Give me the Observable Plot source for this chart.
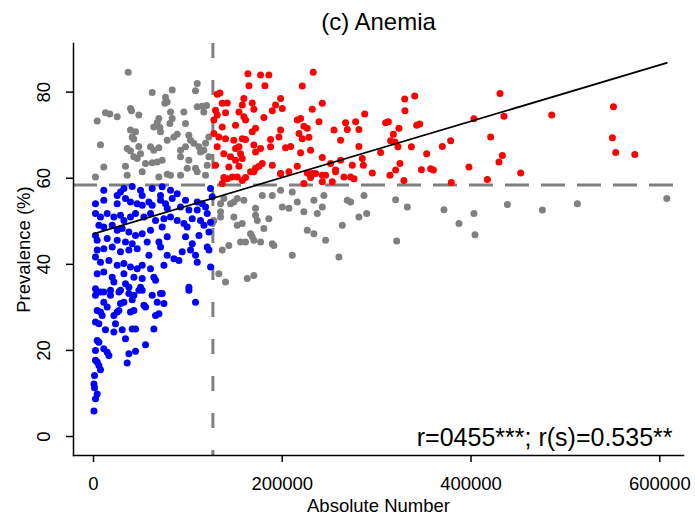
<!DOCTYPE html>
<html><head><meta charset="utf-8">
<script src="https://cdn.jsdelivr.net/npm/d3@7"></script>
<script src="https://cdn.jsdelivr.net/npm/@observablehq/plot@0.6"></script>
<style>body{margin:0;background:#fff;font-family:"Liberation Sans",Arial,sans-serif}</style>
</head><body><div id="chart"></div>
<script>
// Grey points: outside the two highlighted quadrants
const grayPts = [
[36800,84.6],[62200,79.9],[83400,80.5],[109900,82.0],[108100,80.3],[76300,78.8],[78100,77.7],[75600,77.4],[39200,76.2],[40300,75.7],
[12700,75.2],[17300,74.9],[25100,74.3],[3900,73.3],[48000,74.7],[69200,73.9],[67500,72.9],[63900,71.9],[70300,71.8],[71000,70.8],
[81600,75.4],[83400,73.9],[80900,72.7],[95700,75.4],[97500,72.7],[109900,76.6],[115200,76.7],[119800,76.9],[116900,75.4],[39200,71.2],
[44500,70.8],[41000,69.6],[42700,69.1],[7400,67.8],[35700,66.9],[39200,66.3],[48000,67.4],[49800,65.7],[60400,67.3],[63900,66.5],
[69200,67.1],[78100,68.8],[85100,69.6],[88700,70.2],[101000,70.0],[102800,68.8],[92200,66.5],[97500,67.3],[106300,68.1],[111600,67.3],
[113400,66.1],[118700,68.1],[122200,69.6],[116900,66.5],[42700,65.0],[46300,64.6],[55100,63.4],[62200,63.6],[67500,63.8],[72800,64.2],
[92200,65.0],[101000,64.2],[108100,62.3],[120500,63.0],[122200,65.0],[10900,62.6],[33900,62.8],[51600,61.5],[69200,60.3],[81600,60.7],
[99300,62.3],[109900,61.5],[2100,60.3],[35700,60.7],[78100,60.9],[92200,60.7],[118700,60.7],
[134600,54.1],[138100,55.3],[145200,54.1],[148700,54.5],[152300,55.3],[159300,54.9],[134600,52.2],[134600,51.0],[148700,51.0],[152300,49.1],
[157600,49.5],[171700,53.0],[171700,51.4],[173500,50.2],[178800,56.0],[189400,56.0],[198200,57.2],[200000,53.3],[207000,53.0],[210600,56.8],
[215900,54.5],[222900,52.2],[233500,54.9],[237100,51.8],[242400,53.3],[244100,56.0],[268900,54.9],[272400,54.5],[281200,51.0],[263600,49.1],
[185800,50.6],[180500,48.3],[166400,47.1],[168200,46.4],[161100,45.2],[155800,45.2],[169900,45.6],[177000,45.2],[189400,44.8],[191100,44.4],
[143400,44.4],[136400,43.3],[210600,42.1],[226500,47.9],[233500,47.1],[245900,45.6],[260000,41.7],[132800,37.8],[139900,35.9],[162900,36.7],
[169900,37.4],[125800,49.5],[127500,50.2],
[286600,56.0],[289400,51.8],[320100,55.0],[332500,53.3],[321200,45.4],[371300,52.7],[387200,49.5],[403100,51.8],[404200,46.9],[438500,53.9],
[475600,52.6],[512700,54.1],[607400,55.3]
];
// Blue points: low absolute number, low prevalence
const bluePts = [
[10900,57.2],[25100,56.0],[28600,56.8],[32200,57.6],[41000,58.1],[49800,57.2],[51600,56.0],[62200,57.6],[72800,58.0],[71000,56.0],
[81600,57.2],[83400,55.3],[88700,56.4],[97500,54.9],[109900,54.5],[115200,54.1],[124000,57.6],[125800,55.7],
[2100,54.1],[10900,54.9],[25100,54.1],[33900,55.3],[39200,54.5],[46300,54.1],[51600,53.7],[58700,54.5],[62200,53.7],[71000,54.9],
[76300,54.1],[78100,53.0],[92200,53.3],[101100,52.6],[109900,52.6],[118700,53.3],[120500,51.8],
[2100,51.8],[7400,51.0],[14500,51.8],[21600,51.0],[28600,51.4],[32200,50.2],[39200,51.0],[44500,51.8],[53400,51.0],[60400,51.8],
[65700,50.2],[74600,50.6],[81600,51.0],[88700,50.2],[95800,49.5],[104600,50.6],[113400,50.2],[117000,49.1],[124000,49.8],
[5700,49.1],[10900,48.7],[19800,49.1],[25100,47.9],[30400,48.3],[37500,47.5],[44500,46.7],[51600,47.1],[60400,47.9],[72800,48.7],
[99300,48.7],[111700,46.7],[122300,47.5],
[2100,46.7],[3900,45.6],[14500,46.0],[25100,45.6],[33900,45.2],[41000,44.8],[56900,45.2],[69300,45.2],[78100,46.4],[97500,46.4],
[104600,44.8],[120500,44.0],
[3900,43.3],[10900,43.6],[19800,44.0],[28600,42.9],[37500,43.3],[46300,43.6],[58700,42.1],[71000,44.0],[78100,42.1],[85200,41.3],
[94000,42.9],[102800,43.3],[108100,42.1],[122300,43.3],
[2100,41.7],[7400,40.5],[16300,40.9],[25100,39.8],[32200,40.2],[39200,39.4],[46300,39.0],[51600,39.8],[60400,39.0],[74600,39.8],
[90500,40.9],[109900,40.5],[124000,39.4],
[3900,37.8],[10900,38.2],[19800,37.0],[32200,37.8],[42800,37.0],[51600,36.7],[64000,37.0],[21600,35.9],[33900,35.5],[49800,34.7],
[65700,36.3],
[2100,34.3],[10900,33.6],[18000,34.0],[28600,34.0],[37500,34.7],[42800,32.8],[51600,34.0],[62200,32.8],[72800,33.2],[101100,34.7],
[2100,32.8],[7400,33.6],[18000,32.8],[26900,33.6],[37500,33.2],[48100,34.0],[71000,33.2],[101100,34.0],
[10900,31.2],[14500,30.1],[28600,30.9],[32200,31.2],[41000,31.8],[53400,30.5],[55100,30.1],[67500,31.2],[74600,30.9],[108100,31.2],
[3900,29.3],[7400,28.9],[9200,28.1],[21600,28.1],[25100,28.9],[26900,29.3],[39200,28.9],[42800,29.3],[65700,28.1],[69300,28.5],
[2100,26.6],[5700,26.2],[12700,24.8],[23300,26.2],[21600,24.3],[30400,24.8],[41000,25.0],[44500,25.0],[64000,25.0],
[3900,22.3],[5700,21.9],[33900,22.7],[2100,20.0],[10900,20.4],[14500,19.6],[16300,18.8],[44500,19.8],[37500,19.2],[55100,21.3],
[2100,17.7],[3900,17.3],[5700,16.5],[7400,15.5],[35700,17.1],
[1100,14.2],[500,12.2],[1100,11.3],[3900,9.9],[2100,8.8],[500,5.9]
];
// Red points: high absolute number, high prevalence
const redPts = [
[163600,84.3],[177000,84.0],[185800,84.0],[232800,84.6],[164700,81.5],[181600,81.5],[221200,81.4],
[131100,79.5],[133900,79.8],[136400,77.4],[141700,77.5],[159300,78.5],[157600,77.0],[168200,77.5],[169900,76.0],[154100,75.4],
[198200,78.5],[200000,76.2],[192900,77.0],[189400,75.7],[242400,77.4],[231800,76.0],
[129300,75.8],[131100,74.7],[139900,75.2],[127500,73.5],[136400,71.9],[150500,72.3],[159300,74.3],[161100,73.5],[180500,74.1],
[171700,71.6],[168200,70.8],[215900,73.5],[219400,73.9],[222900,72.1],[226500,71.6],[238900,73.1],[254800,71.2],[267100,72.9],
[268900,71.3],[277700,73.1],
[127500,70.4],[132800,69.6],[139900,69.2],[148700,68.8],[157600,69.2],[161100,69.0],[187600,69.0],[198200,71.2],[196500,69.6],
[217700,70.4],[221200,69.2],[228200,69.5],[261800,68.8],[281200,67.4],
[131100,67.3],[138100,65.7],[145200,65.0],[150500,66.9],[154100,67.3],[155800,65.7],[150500,64.2],[157600,64.6],[169900,67.7],
[171700,66.1],[177000,66.9],[187600,67.3],[203500,67.1],[208800,67.4],[219400,65.9],[230000,66.5],[242400,64.8],[251200,63.4],
[261800,64.2],[274200,63.0],
[129300,63.0],[143400,62.6],[154100,62.8],[171700,62.3],[175300,62.8],[178800,63.4],[189400,63.0],[198200,61.1],[215900,62.8],
[226500,61.2],[235300,61.1],[245900,60.7],[256500,61.9],[265400,60.3],[276000,59.9],[138100,60.2],[147000,60.3],[161100,60.2],
[166400,61.5],[207000,61.5],[230000,60.2],
[136400,58.8],[141700,59.9],[152300,60.3],[157600,59.5],[169900,61.5],[198200,61.1],[222900,58.8],[231800,61.1],[242400,60.7],
[242400,59.2],[253000,59.2],[256500,61.5],[272400,60.3],
[430700,79.7],[329700,78.4],[340300,79.1],[330000,75.7],[287300,74.9],[434900,74.4],[309500,72.9],[312400,73.1],[342400,72.3],
[345600,72.6],[281200,71.3],[323600,71.6],[403100,73.8],[317700,70.2],[314800,68.7],[319400,68.4],[378400,68.7],[420800,69.6],
[322600,67.3],[336800,67.3],[369600,67.4],[304200,66.0],[353000,65.7],[433200,65.3],[284800,64.6],[285900,63.0],[324700,63.4],
[429600,63.8],[295400,61.2],[320100,61.9],[347400,62.0],[357200,62.2],[360100,61.9],[397800,62.6],[314100,60.7],[328900,59.5],
[417300,59.7],[452600,61.2],[379100,59.0],
[485500,74.7],[550900,76.6],[549800,69.4],[553300,66.0],[573500,65.5]
];
// Regression line end points and cut-offs
const regLine = [[0,47.1],[607400,86.8]];
const cutX = [126500];
const cutY = [58.4];
const xTicks = [0, 200000, 400000, 600000];
const yTicks = [0, 20, 40, 60, 80];
const titleText = ["(c) Anemia"];
const statText = ["r=0455***; r(s)=0.535**"];
const xLabel = ["Absolute Number"];
const yLabel = ["Prevalence (%)"];

const grey = "#808080";
const chart = Plot.plot({
  width: 695, height: 516,
  marginLeft: 73, marginRight: 12, marginTop: 43, marginBottom: 61,
  style: {fontFamily: "'Liberation Sans', Arial, sans-serif", fontSize: "18.5px", background: "#fff", color: "#000"},
  x: {domain: [-21190, 625110], axis: null},
  y: {domain: [-4.41, 91.3], axis: null},
  marks: [
    Plot.ruleY(cutY, {stroke: grey, strokeWidth: 3, strokeDasharray: "24,12"}),
    Plot.ruleX(cutX, {stroke: grey, strokeWidth: 3, strokeDasharray: "15,22"}),
    Plot.dot(grayPts, {x: d => d[0], y: d => d[1], r: 3.5, fill: grey, stroke: null}),
    Plot.dot(bluePts, {x: d => d[0], y: d => d[1], r: 3.5, fill: "#0000ff", stroke: null}),
    Plot.dot(redPts, {x: d => d[0], y: d => d[1], r: 3.5, fill: "#ff0000", stroke: null}),
    Plot.line(regLine, {x: d => d[0], y: d => d[1], stroke: "#000", strokeWidth: 1.8}),
    Plot.frame({anchor: "left", stroke: "#000", strokeWidth: 1.5}),
    Plot.frame({anchor: "bottom", stroke: "#000", strokeWidth: 1.5}),
    Plot.axisX({ticks: xTicks, tickSize: 7, tickFormat: d => String(d), tickPadding: 14, fontSize: 18.5, strokeWidth: 1.5, label: null}),
    Plot.axisY({ticks: yTicks, tickSize: 7, tickFormat: () => "", strokeWidth: 1.5, label: null}),
    Plot.text(yTicks, {y: d => d, text: d => String(d), frameAnchor: "left", dx: -29.7, rotate: -90, textAnchor: "middle", lineAnchor: "middle", fontSize: 18.5}),
    Plot.text(titleText, {text: d => d, frameAnchor: "top", dy: -21, lineAnchor: "middle", fontSize: 24}),
    Plot.text(statText, {text: d => d, frameAnchor: "bottom-right", dx: -11, dy: -18, textAnchor: "end", lineAnchor: "middle", fontSize: 25}),
    Plot.text(xLabel, {text: d => d, frameAnchor: "bottom", dy: 51, lineAnchor: "middle", fontSize: 18.5}),
    Plot.text(yLabel, {text: d => d, frameAnchor: "left", dx: -49, rotate: -90, textAnchor: "middle", lineAnchor: "middle", fontSize: 18.5})
  ]
});
document.getElementById("chart").appendChild(chart);
</script>
</body></html>
